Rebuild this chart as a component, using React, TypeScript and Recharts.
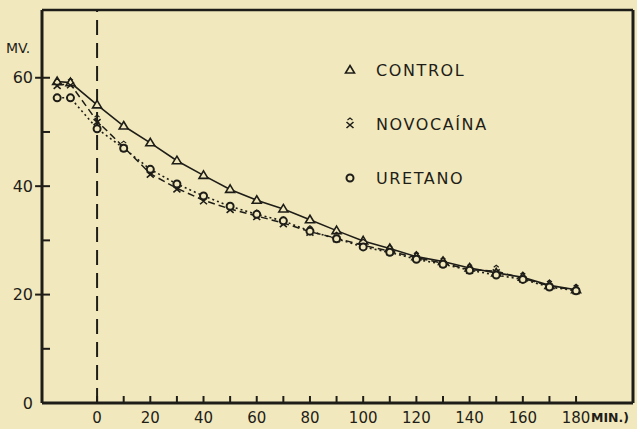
import React from "react"
import {
  LineChart,
  Line,
  XAxis,
  YAxis,
  ReferenceLine,
} from "recharts"

const minutes = [-15, -10, 0, 10, 20, 30, 40, 50, 60, 70, 80, 90, 100, 110, 120, 130, 140, 150, 160, 170, 180]
const control = [59.3, 59.1, 55.0, 51.1, 48.0, 44.7, 42.0, 39.4, 37.4, 35.8, 33.8, 31.8, 29.9, 28.5, 27.0, 26.1, 24.9, 24.0, 23.2, 21.7, 20.9]
const novocaina = [58.7, 58.8, 52.0, 47.2, 42.3, 39.6, 37.4, 35.8, 34.5, 33.2, 31.6, 30.4, 29.1, 28.0, 26.8, 25.8, 24.6, 24.3, 23.0, 21.6, 20.8]
const uretano = [56.3, 56.3, 50.6, 47.0, 43.1, 40.4, 38.2, 36.3, 34.8, 33.6, 31.7, 30.3, 28.8, 27.8, 26.5, 25.6, 24.5, 23.6, 22.8, 21.4, 20.7]

const xTicks = [0, 10, 20, 30, 40, 50, 60, 70, 80, 90, 100, 110, 120, 130, 140, 150, 160, 170, 180]
const yTicks = [0, 10, 20, 30, 40, 50, 60]
const yMajor = [20, 40, 60]
const legendItems = ["CONTROL", "NOVOCAÍNA", "URETANO"]

const data = minutes.map((m, i) => ({
  min: m,
  control: control[i],
  novocaina: novocaina[i],
  uretano: uretano[i],
}))

const xMin = -20.7
const xMax = 201.4
const yMax = 72.5

const ink = "#1f1d18"
const paper = "#f1e9bd"
const font = "'DejaVu Sans', sans-serif"

const Triangle = ({ cx, cy }: any) => (
  <path d={`M${cx},${cy - 4.5} L${cx + 4.5},${cy + 3} L${cx - 4.5},${cy + 3} Z`} fill={paper} stroke={ink} strokeWidth={1.6} />
)

const Cross = ({ cx, cy }: any) => (
  <g stroke={ink} strokeWidth={1.6} fill="none">
    <path d={`M${cx - 3.5},${cy - 2} L${cx + 3.5},${cy + 4} M${cx + 3.5},${cy - 2} L${cx - 3.5},${cy + 4}`} />
    <path d={`M${cx - 2.5},${cy - 4} L${cx},${cy - 6} L${cx + 2.5},${cy - 4}`} strokeWidth={1.2} />
  </g>
)

const Ring = ({ cx, cy }: any) => (
  <circle cx={cx} cy={cy} r={3.5} fill={paper} stroke={ink} strokeWidth={2} />
)

const LegendBox = () => {
  const markers = [
    <Triangle cx={9} cy={10} />,
    <Cross cx={9} cy={10} />,
    <Ring cx={9} cy={10} />,
  ]
  return (
    <div
      style={{
        position: "absolute",
        left: 341,
        top: 60,
        fontFamily: font,
        color: ink,
        fontSize: 16,
        letterSpacing: 1.6,
      }}
    >
      {legendItems.map((name, i) => (
        <div key={name} style={{ display: "flex", alignItems: "center", height: 20, marginBottom: i < 2 ? 34 : 0 }}>
          <svg width={18} height={20} style={{ marginRight: 17 }}>
            {markers[i]}
          </svg>
          <span>{name}</span>
        </div>
      ))}
    </div>
  )
}

export default function App() {
  return (
    <div style={{ position: "absolute", left: 0, top: 0, width: 637, height: 429, background: paper }}>
      <LineChart
        width={637}
        height={429}
        data={data}
        margin={{ top: 10, right: 4, bottom: 0, left: 0 }}
      >
        <XAxis
          dataKey="min"
          type="number"
          domain={[xMin, xMax]}
          ticks={xTicks}
          interval={0}
          height={26}
          tickSize={-7}
          tickMargin={16}
          tickLine={{ stroke: ink, strokeWidth: 2 }}
          tickFormatter={(v: number) => (v % 20 === 0 ? String(v) : "")}
          axisLine={{ stroke: ink, strokeWidth: 3 }}
          tick={{ fill: ink, fontSize: 15, fontFamily: font }}
          allowDataOverflow
        />
        <YAxis
          type="number"
          domain={[0, yMax]}
          ticks={yTicks}
          interval={0}
          width={42}
          tickSize={-8}
          tickMargin={17}
          tickLine={{ stroke: ink, strokeWidth: 2 }}
          tickFormatter={(v: number) => (v % 20 === 0 ? String(v) : "")}
          axisLine={{ stroke: ink, strokeWidth: 3 }}
          tick={{ fill: ink, fontSize: 16, fontFamily: font }}
          allowDataOverflow
        />
        <ReferenceLine y={yMax} stroke={ink} strokeWidth={2.5} ifOverflow="visible" />
        <ReferenceLine x={xMax} stroke={ink} strokeWidth={3} ifOverflow="visible" />
        {yMajor.map((t) => (
          <ReferenceLine
            key={`yt-${t}`}
            segment={[{ x: xMin - 2.6, y: t }, { x: xMin, y: t }]}
            stroke={ink}
            strokeWidth={2}
            ifOverflow="visible"
          />
        ))}
        <ReferenceLine x={0} stroke={ink} strokeWidth={2} strokeDasharray="15 8" />
        <Line
          dataKey="control"
          stroke={ink}
          strokeWidth={1.6}
          dot={<Triangle />}
          isAnimationActive={false}
        />
        <Line
          dataKey="novocaina"
          stroke={ink}
          strokeWidth={1.5}
          strokeDasharray="7 4"
          dot={<Cross />}
          isAnimationActive={false}
        />
        <Line
          dataKey="uretano"
          stroke={ink}
          strokeWidth={1.6}
          strokeDasharray="2 3"
          dot={<Ring />}
          isAnimationActive={false}
        />
      </LineChart>
      <LegendBox />
      <div style={{ position: "absolute", left: 6, top: 40, fontFamily: font, fontSize: 14, color: ink }}>
        MV.
      </div>
      <div style={{ position: "absolute", left: 591, top: 410, fontFamily: font, fontSize: 12.5, fontWeight: "bold", color: ink }}>
        MIN.)
      </div>
    </div>
  )
}
